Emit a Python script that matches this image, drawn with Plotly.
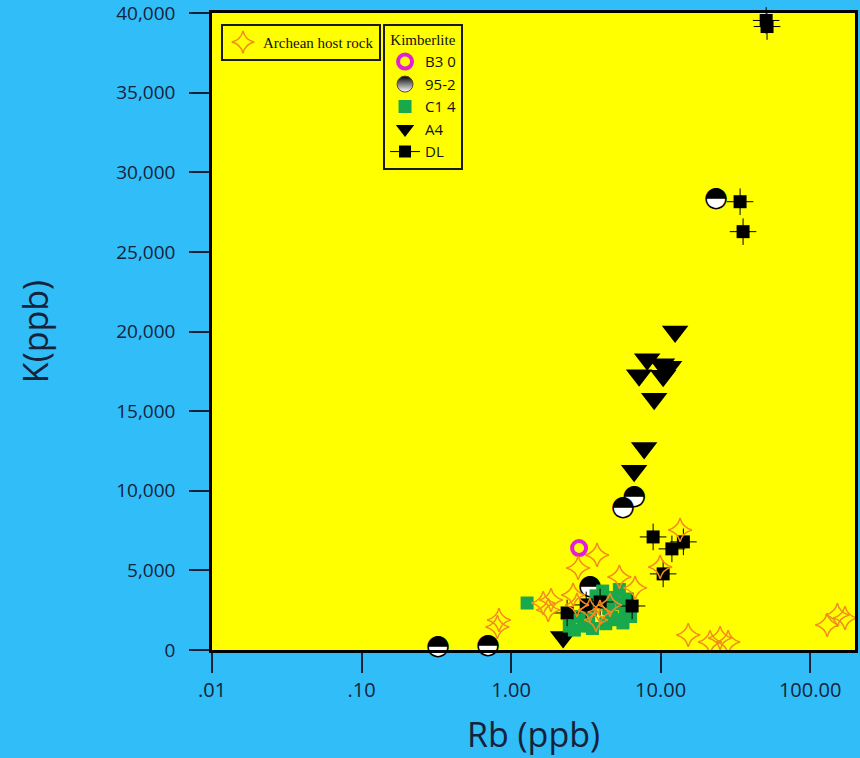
import plotly.graph_objects as go

# ---------------- data ----------------
host_rb = [0.81, 0.83, 1.64, 1.77, 1.85, 2.60, 2.76, 2.81, 3.37, 3.70, 3.76, 3.93,
           4.59, 5.30, 6.75, 9.93, 13.5, 15.3, 21.4, 25.0, 28.3, 130, 152, 171]
host_k = [1445, 1885, 2950, 2510, 3140, 3460, 2830, 5150, 2510, 1885, 5970, 2390,
          2830, 4590, 3900, 5215, 7540, 940, 500, 750, 500, 1570, 2200, 2010]

b30_rb = [2.85]
b30_k = [6400]

k952_rb = [0.325, 0.70, 3.37, 5.61, 6.65, 23.5]
k952_k = [200, 250, 3960, 8900, 9600, 28300]

c14_rb = [1.28, 2.45, 2.65, 2.85, 3.05, 3.30, 3.50, 3.70, 3.90, 4.10, 4.30, 4.50,
          4.70, 4.90, 5.10, 5.30, 5.50, 5.80, 6.00, 6.30, 3.40, 4.40, 5.60]
c14_k = [2950, 1500, 1250, 2100, 1500, 1900, 1350, 3400, 3100, 3700, 1650, 2600,
         2050, 3300, 1900, 3800, 2900, 2400, 3200, 2100, 2500, 3000, 1700]

a4_rb = [12.5, 8.13, 10.2, 11.4, 7.18, 10.4, 9.06, 7.76, 6.65, 2.23]
a4_k = [20000, 18250, 17950, 17780, 17250, 17220, 15770, 12690, 11250, 820]

dl_rb = [50.8, 51.5, 34.0, 35.6, 8.91, 14.2, 11.9, 10.4, 6.45, 2.37, 3.18, 3.94]
dl_k = [39530, 39150, 28150, 26270, 7100, 6790, 6350, 4780, 2765, 2325, 2830, 3016]

x_tickvals = [0.01, 0.1, 1, 10, 100]
x_ticktext = ['.01', '.10', '1.00', '10.00', '100.00']
y_tickvals = [0, 5000, 10000, 15000, 20000, 25000, 30000, 35000, 40000]

# ---------------- styles ----------------
NAVY = '#14233a'
YELLOW = '#FFFF00'
BLUE = '#31BDF8'
ORANGE = '#F28C1E'
GREEN = '#19A84B'
MAGENTA = '#E11FD6'

fig = go.Figure()

# 95-2 half-filled circles (white disc marker + upper-half-black glyph)
fig.add_trace(go.Scatter(x=k952_rb, y=k952_k, mode='markers+text', text=['\u25D3'] * len(k952_rb),
                         marker=dict(symbol='circle', size=20, color='white', line=dict(width=0)),
                         textfont=dict(family='DejaVu Sans', size=28, color='black'),
                         textposition='middle center', showlegend=False, cliponaxis=False,
                         name='95-2'))

# A4
fig.add_trace(go.Scatter(x=a4_rb, y=a4_k, mode='markers', name='A4',
                         marker=dict(symbol='triangle-down', size=23, color='black', line=dict(width=0)),
                         legend='legend2', legendrank=4, cliponaxis=False))

# C14
fig.add_trace(go.Scatter(x=c14_rb, y=c14_k, mode='markers', name='C1 4',
                         marker=dict(symbol='square', size=13, color=GREEN, line=dict(width=0)),
                         legend='legend2', legendrank=3, cliponaxis=False))

# DL crosshair + square
fig.add_trace(go.Scatter(x=dl_rb, y=dl_k, mode='markers', showlegend=False,
                         marker=dict(symbol='cross-thin-open', size=19, color='black',
                                     line=dict(width=1, color='black')),
                         cliponaxis=False, hoverinfo='skip'))
fig.add_trace(go.Scatter(x=dl_rb, y=dl_k, mode='markers', name='DL', showlegend=False,
                         marker=dict(symbol='square', size=13, color='black', line=dict(width=0)),
                         cliponaxis=False))

# B30
fig.add_trace(go.Scatter(x=b30_rb, y=b30_k, mode='markers', name='B3 0',
                         marker=dict(symbol='circle-open', size=14, color=MAGENTA,
                                     line=dict(width=4, color=MAGENTA)),
                         legend='legend2', legendrank=1, cliponaxis=False))

# Archean host rock
fig.add_trace(go.Scatter(x=host_rb, y=host_k, mode='markers', name='Archean host rock',
                         marker=dict(symbol='star-diamond-open', size=17, color=ORANGE,
                                     line=dict(width=1.5, color=ORANGE)),
                         legend='legend', cliponaxis=False))

# legend proxies
fig.add_trace(go.Scatter(x=[None], y=[None], mode='markers', name='95-2',
                         marker=dict(symbol='circle', size=16, color='black',
                                     gradient=dict(type='vertical', color='white'),
                                     line=dict(width=1, color='#5a4a20')),
                         legend='legend2', legendrank=2))
fig.add_trace(go.Scatter(x=[None], y=[None], mode='lines+markers', name='DL',
                         marker=dict(symbol='square', size=12, color='black'),
                         line=dict(width=1, color='black'),
                         legend='legend2', legendrank=5))

fig.update_layout(
    width=860, height=758,
    margin=dict(l=212, r=5, t=13, b=108),
    paper_bgcolor=BLUE, plot_bgcolor=YELLOW,
    showlegend=True,
    legend=dict(x=0.014, y=0.983, xanchor='left', yanchor='top', bgcolor=YELLOW,
                bordercolor='#1a1a1a', borderwidth=2,
                font=dict(family='Liberation Serif', size=15, color='#111')),
    legend2=dict(x=0.266, y=0.983, xanchor='left', yanchor='top', bgcolor=YELLOW,
                 bordercolor='#1a1a1a', borderwidth=2,
                 title=dict(text='Kimberlite', side='top center',
                            font=dict(family='Liberation Serif', size=15, color='#111')),
                 font=dict(family='Open Sans', size=15, color='#111')),
)

fig.update_xaxes(type='log', range=[-2, 2.30], tickvals=x_tickvals, ticktext=x_ticktext,
                 ticks='outside', ticklen=20, tickwidth=2, tickcolor=NAVY,
                 showline=True, linewidth=2.5, linecolor='black', mirror=True,
                 showgrid=False, zeroline=False, ticklabeloverflow='allow', automargin=False,
                 tickfont=dict(family='Open Sans', size=20, color=NAVY),
                 title=dict(text='Rb (ppb)', standoff=22,
                            font=dict(family='Open Sans', size=34, color=NAVY)))
fig.update_yaxes(range=[0, 40000], tickvals=y_tickvals, tickformat=',',
                 ticks='outside', ticklen=20, tickwidth=2, tickcolor=NAVY,
                 showline=True, linewidth=2.5, linecolor='black', mirror=True,
                 showgrid=False, zeroline=False, ticklabeloverflow='allow', automargin=False,
                 ticklabelstandoff=10,
                 tickfont=dict(family='Open Sans', size=19, color=NAVY),
                 title=dict(text='K(ppb)', standoff=58,
                            font=dict(family='Open Sans', size=34, color=NAVY)))

fig.write_html('out.html')
